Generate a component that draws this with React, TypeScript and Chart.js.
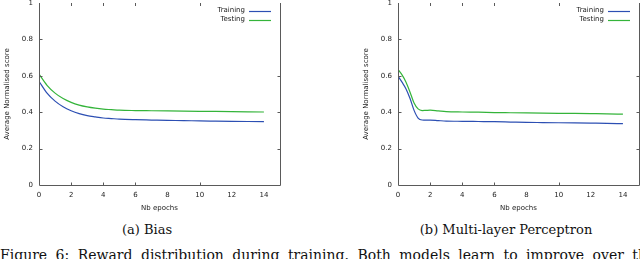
import React, { useEffect, useRef } from "react";
import { Chart, registerables } from "chart.js";

Chart.register(...registerables);

// ---------- data ----------
const biasEpochs = [0, 0.5, 1, 1.5, 2, 2.5, 3, 3.5, 4, 4.5, 5, 6, 7, 8, 9, 10, 11, 12, 13, 14];
const biasTraining = [0.570, 0.505, 0.461, 0.430, 0.408, 0.392, 0.381, 0.374, 0.368, 0.365, 0.362, 0.359, 0.357, 0.355, 0.354, 0.352, 0.351, 0.350, 0.349, 0.348];
const biasTesting = [0.610, 0.548, 0.505, 0.475, 0.454, 0.439, 0.429, 0.422, 0.417, 0.414, 0.411, 0.409, 0.408, 0.407, 0.406, 0.405, 0.404, 0.403, 0.402, 0.401];

const mlpEpochs = [0, 0.25, 0.5, 0.75, 1, 1.25, 1.5, 1.75, 2, 2.5, 3, 4, 5, 6, 7, 8, 9, 10, 11, 12, 13, 14];
const mlpTraining = [0.598, 0.565, 0.528, 0.475, 0.410, 0.368, 0.357, 0.356, 0.357, 0.354, 0.351, 0.350, 0.349, 0.348, 0.346, 0.344, 0.343, 0.342, 0.341, 0.340, 0.339, 0.337];
const mlpTesting = [0.635, 0.605, 0.565, 0.510, 0.450, 0.418, 0.409, 0.410, 0.411, 0.407, 0.403, 0.401, 0.400, 0.398, 0.397, 0.396, 0.395, 0.394, 0.393, 0.392, 0.391, 0.389];

const xTickValues = [0, 2, 4, 6, 8, 10, 12, 14];
const yTickValues = [0, 0.2, 0.4, 0.6, 0.8, 1];
const innerXTicks = [2, 4, 6, 10];
const innerLeftYTicks = [0.2, 0.4, 0.6, 0.8];
const innerRightYTicks = [0.2, 0.4, 0.6];

const seriesLabels = ["Training", "Testing"];
const seriesColors = ["#2c4fb3", "#34b43a"];

const xTitle = "Nb epochs";
const yTitle = "Average Normalised score";
const captionA = "(a) Bias";
const captionB = "(b) Multi-layer Perceptron";
const figureText = "Figure 6: Reward distribution during training. Both models learn to improve over the number of";

const AXIS_COLOR = "#5a5a5a";
const TEXT_COLOR = "#222";
const SMALL_FONT = { family: "DejaVu Sans", size: 7 };

const framePlugin = {
  id: "gnuFrame",
  afterDatasetsDraw(chart: any) {
    const { ctx, chartArea: a, scales } = chart;
    const xs = scales.x;
    const ys = scales.y;
    const L = Math.round(a.left) + 0.5;
    const R = Math.round(a.right) + 0.5;
    const B = Math.round(a.bottom) + 0.5;
    const T = Math.round(a.top);
    ctx.save();
    ctx.strokeStyle = AXIS_COLOR;
    ctx.lineWidth = 1;
    ctx.beginPath();
    ctx.moveTo(L, T);
    ctx.lineTo(L, B);
    ctx.lineTo(R, B);
    ctx.lineTo(R, T);
    for (const v of innerXTicks) {
      const px = Math.round(xs.getPixelForValue(v)) + 0.5;
      ctx.moveTo(px, B);
      ctx.lineTo(px, B - 3);
      ctx.moveTo(px, T);
      ctx.lineTo(px, T + 3);
    }
    for (const v of innerLeftYTicks) {
      const py = Math.round(ys.getPixelForValue(v)) + 0.5;
      ctx.moveTo(L, py);
      ctx.lineTo(L + 3, py);
    }
    for (const v of innerRightYTicks) {
      const py = Math.round(ys.getPixelForValue(v)) + 0.5;
      ctx.moveTo(R, py);
      ctx.lineTo(R - 3, py);
    }
    ctx.stroke();

    ctx.font = `${SMALL_FONT.size}px ${SMALL_FONT.family}`;
    ctx.textAlign = "right";
    ctx.textBaseline = "middle";
    chart.data.datasets.forEach((ds: any, i: number) => {
      const yy = a.top + 7.5 + i * 9;
      ctx.fillStyle = TEXT_COLOR;
      ctx.fillText(ds.label, a.right - 35, yy);
      ctx.strokeStyle = ds.borderColor;
      ctx.lineWidth = 1.2;
      ctx.beginPath();
      ctx.moveTo(a.right - 31, Math.round(yy) + 0.5);
      ctx.lineTo(a.right - 9, Math.round(yy) + 0.5);
      ctx.stroke();
    });
    ctx.restore();
  },
};

function Panel(props: { epochs: number[]; training: number[]; testing: number[]; left: number }) {
  const ref = useRef<HTMLCanvasElement | null>(null);
  useEffect(() => {
    if (!ref.current) return;
    const series = [props.training, props.testing];
    const chart = new Chart(ref.current, {
      type: "line",
      data: {
        datasets: series.map((vals, i) => ({
          label: seriesLabels[i],
          data: props.epochs.map((x, j) => ({ x, y: vals[j] })),
          borderColor: seriesColors[i],
          backgroundColor: seriesColors[i],
          borderWidth: 1.2,
          pointRadius: 0,
          cubicInterpolationMode: "monotone" as const,
          fill: false,
        })),
      },
      options: {
        responsive: false,
        animation: false,
        devicePixelRatio: 1,
        layout: { padding: { top: 13, right: 2, left: 0, bottom: 0 } },
        plugins: { legend: { display: false }, tooltip: { enabled: false } },
        scales: {
          x: {
            type: "linear",
            min: 0,
            max: 15,
            afterBuildTicks: (s: any) => {
              s.ticks = xTickValues.map((v) => ({ value: v }));
            },
            afterFit: (s: any) => {
              s.height = 27;
            },
            grid: { display: false, drawTicks: false, tickLength: 0 },
            border: { display: false },
            ticks: {
              font: SMALL_FONT,
              color: TEXT_COLOR,
              padding: 6,
              maxRotation: 0,
              autoSkip: false,
              callback: (v: any) => String(v),
            },
            title: { display: true, text: xTitle, font: SMALL_FONT, color: TEXT_COLOR, padding: 0 },
          },
          y: {
            type: "linear",
            min: 0,
            max: 1,
            afterBuildTicks: (s: any) => {
              s.ticks = yTickValues.map((v) => ({ value: v }));
            },
            afterFit: (s: any) => {
              s.width = 39;
            },
            grid: { display: false, drawTicks: false, tickLength: 0 },
            border: { display: false },
            ticks: {
              font: SMALL_FONT,
              color: TEXT_COLOR,
              padding: 6,
              autoSkip: false,
              callback: (v: any) => String(Math.round(v * 10) / 10),
            },
            title: { display: true, text: yTitle, font: SMALL_FONT, color: TEXT_COLOR, padding: { top: 3, bottom: 0 } },
          },
        },
      },
      plugins: [framePlugin],
    } as any);
    return () => chart.destroy();
  }, []);
  return (
    <canvas
      ref={ref}
      width={282}
      height={222}
      style={{ position: "absolute", left: props.left, top: -10, width: 282, height: 222 }}
    />
  );
}

export default function App() {
  const caption: React.CSSProperties = {
    position: "absolute",
    top: 221,
    fontFamily: "DejaVu Serif",
    fontSize: 13,
    color: "#111",
    whiteSpace: "nowrap",
    transform: "translateX(-50%)",
    lineHeight: "18px",
  };
  return (
    <div
      style={{
        position: "absolute",
        left: 0,
        top: 0,
        width: 640,
        height: 259,
        overflow: "hidden",
        background: "#fff",
      }}
    >
      <Panel epochs={biasEpochs} training={biasTraining} testing={biasTesting} left={0} />
      <Panel epochs={mlpEpochs} training={mlpTraining} testing={mlpTesting} left={359} />
      <div style={{ ...caption, left: 147 }}>{captionA}</div>
      <div style={{ ...caption, left: 506 }}>{captionB}</div>
      <div
        style={{
          position: "absolute",
          left: 0,
          top: 245,
          width: 640,
          fontFamily: "DejaVu Serif",
          fontSize: 14,
          color: "#111",
          whiteSpace: "nowrap",
          lineHeight: "20px",
          wordSpacing: 4,
        }}
      >
        {figureText}
      </div>
    </div>
  );
}
